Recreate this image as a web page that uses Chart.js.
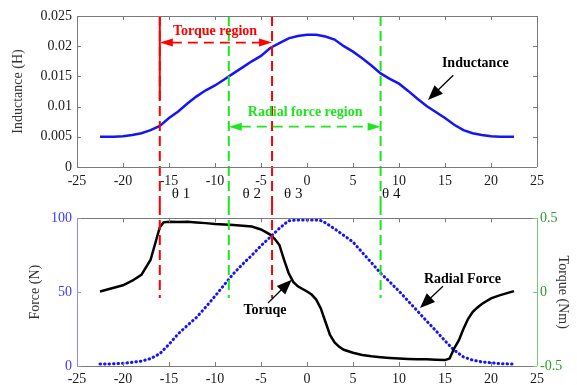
<!DOCTYPE html>
<html>
<head>
<meta charset="UTF-8">
<script src="https://cdn.jsdelivr.net/npm/chart.js@4.4.0/dist/chart.umd.min.js"></script>
<style>
  body { margin: 0; background: #fff; }
  #wrap { position: relative; width: 577px; height: 385px; }
  canvas { position: absolute; left: 0; }
  #top { top: 0; }
  #bot { top: 205px; }
</style>
</head>
<body>
<div id="wrap">
  <canvas id="top" width="577" height="205"></canvas>
  <canvas id="bot" width="577" height="180"></canvas>
</div>
<script>
// rotor angle (deg) and inductance (H)
const angleL = [-22.5, -21, -20, -19, -18, -17, -16, -15, -14, -13, -12, -11, -10, -9, -8, -7, -6, -5, -4, -3, -2, -1,
  0, 1, 2, 3, 4, 5, 6, 7, 8, 9, 10, 11, 12, 13, 14, 15, 16, 17, 18, 19, 20, 21, 22.5];
const inductance = [0.0050, 0.0050, 0.0051, 0.0053, 0.0056, 0.0061, 0.0068, 0.0081, 0.0092, 0.0105, 0.0117, 0.0127,
  0.0135, 0.0145, 0.0155, 0.0165, 0.0175, 0.0184, 0.0197, 0.0205, 0.0213, 0.0217, 0.0219, 0.0219, 0.0216, 0.0211,
  0.0200, 0.0191, 0.0180, 0.0168, 0.0155, 0.0146, 0.0138, 0.0126, 0.0113, 0.0101, 0.0091, 0.0081, 0.0070, 0.0061,
  0.0056, 0.0053, 0.0051, 0.0050, 0.0050];

// torque (Nm)
const angleT = [-22.5, -21, -20, -19, -18, -17, -16.5, -16, -15.6, -15, -14, -13, -12, -11, -10, -9, -8, -7, -6, -5,
  -4, -3.5, -3, -2.5, -2, -1.5, -1, 0, 0.5, 1, 1.5, 2, 2.5, 3, 3.5, 4, 5, 6, 7, 8, 9, 10, 11, 12, 13, 14, 15, 15.5,
  16, 16.5, 17, 17.5, 18, 18.5, 19, 20, 21, 22.5];
const torque = [0.005, 0.03, 0.047, 0.078, 0.118, 0.22, 0.33, 0.44, 0.473, 0.478, 0.476, 0.478, 0.473, 0.468, 0.462,
  0.459, 0.456, 0.45, 0.445, 0.425, 0.39, 0.36, 0.32, 0.22, 0.13, 0.07, 0.04, 0.005, -0.016, -0.05, -0.11, -0.2,
  -0.29, -0.34, -0.37, -0.39, -0.41, -0.426, -0.434, -0.44, -0.445, -0.449, -0.452, -0.454, -0.455, -0.458, -0.46,
  -0.449, -0.38, -0.327, -0.25, -0.182, -0.135, -0.105, -0.08, -0.042, -0.02, 0.007];

// radial force (N)
const angleF = [-22.5, -21, -20, -19, -18, -17, -16, -15, -14, -13, -12, -11, -10, -9, -8, -7, -6, -5, -4, -3, -2, -1,
  0, 1, 1.5, 2, 3, 4, 5, 6, 7, 8, 9, 10, 11, 12, 13, 14, 15, 16, 17, 18, 19, 20, 21, 22.5];
const radialForce = [1.3, 1.5, 1.8, 2.5, 3.3, 5, 8.4, 14.7, 21.8, 27.5, 33, 40, 47.3, 55, 62.5, 69, 75, 81.5, 87.3,
  93.3, 98.4, 99, 99, 99, 98.5, 97, 92.9, 88.5, 84, 77, 70, 62.9, 57, 50.7, 44, 37.3, 30.5, 24, 17, 10.7, 6.2, 4,
  2.8, 2.2, 1.6, 1.3];

// region boundaries
const thetaAngles = [-16, -8.5, -3.8, 8];
const thetaNames = ['θ 1', 'θ 2', 'θ 3', 'θ 4'];

const RED = '#ff0000', GREEN = '#1ee61e', BLUE = '#1515f5';
const serif = "'Liberation Serif', 'Times New Roman', serif";
Chart.defaults.font.family = serif;
Chart.defaults.font.size = 14;
Chart.defaults.color = '#1a1a1a';

const pts = (xs, ys) => xs.map((x, i) => ({x: x, y: ys[i]}));
const lineColor = i => (i % 2 === 0 ? RED : GREEN);

function head(ctx, x1, y1, x2, y2, len, w) {
  const a = Math.atan2(y2 - y1, x2 - x1);
  const bx = x2 - len * Math.cos(a), by = y2 - len * Math.sin(a);
  ctx.beginPath();
  ctx.moveTo(x2, y2);
  ctx.lineTo(bx + w * Math.sin(a), by - w * Math.cos(a));
  ctx.lineTo(bx - w * Math.sin(a), by + w * Math.cos(a));
  ctx.closePath();
  ctx.fill();
}

function arrow(ctx, x1, y1, x2, y2) {
  const a = Math.atan2(y2 - y1, x2 - x1);
  ctx.save();
  ctx.strokeStyle = '#000';
  ctx.fillStyle = '#000';
  ctx.lineWidth = 1.3;
  ctx.beginPath();
  ctx.moveTo(x1, y1);
  ctx.lineTo(x2 - 12 * Math.cos(a), y2 - 12 * Math.sin(a));
  ctx.stroke();
  head(ctx, x1, y1, x2, y2, 15, 6);
  ctx.restore();
}

// dashed double arrow between two boundaries
function span(ctx, xa, xb, y, color) {
  ctx.save();
  ctx.strokeStyle = color;
  ctx.fillStyle = color;
  ctx.lineWidth = 1.8;
  ctx.setLineDash([10, 6]);
  ctx.beginPath();
  ctx.moveTo(xa + 12, y);
  ctx.lineTo(xb - 12, y);
  ctx.stroke();
  head(ctx, xb, y, xa, y, 13, 4);
  head(ctx, xa, y, xb, y, 13, 4);
  ctx.restore();
}

function label(ctx, text, x, y, color, bold) {
  ctx.save();
  ctx.font = (bold ? 'bold ' : '') + '14px ' + serif;
  ctx.fillStyle = color;
  ctx.textAlign = 'center';
  ctx.textBaseline = 'middle';
  ctx.fillText(text, x, y);
  ctx.restore();
}

function vline(ctx, x, y1, y2, color, dash) {
  ctx.save();
  ctx.strokeStyle = color;
  ctx.lineWidth = 2;
  ctx.setLineDash(dash);
  ctx.beginPath();
  ctx.moveTo(x, y1);
  ctx.lineTo(x, y2);
  ctx.stroke();
  ctx.restore();
}

// box with inward ticks, MATLAB style
const frame = {
  id: 'frame',
  afterDraw(chart, args, o) {
    const {ctx, chartArea: a} = chart;
    const x = chart.scales.x, yl = chart.scales[o.left], yr = chart.scales[o.right];
    const r = v => Math.round(v) + 0.5;
    ctx.save();
    ctx.lineWidth = 1;
    ctx.strokeStyle = '#7a7a7a';
    ctx.beginPath();
    ctx.moveTo(a.left, r(a.top)); ctx.lineTo(a.right, r(a.top));
    ctx.moveTo(a.left, r(a.bottom)); ctx.lineTo(a.right, r(a.bottom));
    x.ticks.forEach(t => {
      const px = r(x.getPixelForValue(t.value));
      ctx.moveTo(px, a.bottom); ctx.lineTo(px, a.bottom - 4);
      ctx.moveTo(px, a.top); ctx.lineTo(px, a.top + 4);
    });
    ctx.stroke();
    ctx.strokeStyle = o.leftColor;
    ctx.beginPath();
    ctx.moveTo(r(a.left), a.top); ctx.lineTo(r(a.left), a.bottom);
    yl.ticks.forEach(t => {
      const py = r(yl.getPixelForValue(t.value));
      ctx.moveTo(a.left, py); ctx.lineTo(a.left + 4, py);
    });
    ctx.stroke();
    ctx.strokeStyle = o.rightColor;
    ctx.beginPath();
    ctx.moveTo(r(a.right), a.top); ctx.lineTo(r(a.right), a.bottom);
    yr.ticks.forEach(t => {
      const py = r(yr.getPixelForValue(t.value));
      ctx.moveTo(a.right, py); ctx.lineTo(a.right - 4, py);
    });
    ctx.stroke();
    ctx.restore();
  }
};

const topMarks = {
  id: 'topMarks',
  afterDatasetsDraw(chart) {
    const {ctx, chartArea: a, scales: {x, y}} = chart;
    thetaAngles.forEach((t, i) => {
      vline(ctx, x.getPixelForValue(t), a.top, chart.height, lineColor(i), [10, 5]);
    });
    vline(ctx, x.getPixelForValue(thetaAngles[0]), a.top, y.getPixelForValue(0.0111), RED, []);
    const at = [-14.7, -7.0, -2.5, 8.15];
    ctx.save();
    ctx.font = '15px ' + serif;
    ctx.fillStyle = '#111';
    ctx.textBaseline = 'middle';
    thetaNames.forEach((n, i) => ctx.fillText(n, x.getPixelForValue(at[i]), chart.height - 11));
    ctx.restore();

    label(ctx, 'Torque region', x.getPixelForValue(-10), y.getPixelForValue(0.0225), RED, true);
    span(ctx, x.getPixelForValue(thetaAngles[0]), x.getPixelForValue(thetaAngles[2]), y.getPixelForValue(0.0206), RED);
    label(ctx, 'Radial force region', x.getPixelForValue(-0.2), y.getPixelForValue(0.0091), GREEN, true);
    span(ctx, x.getPixelForValue(thetaAngles[1]), x.getPixelForValue(thetaAngles[3]), y.getPixelForValue(0.00667), GREEN);
    label(ctx, 'Inductance', x.getPixelForValue(18.3), y.getPixelForValue(0.0172), '#000', true);
    arrow(ctx, x.getPixelForValue(15.9), y.getPixelForValue(0.0152), x.getPixelForValue(13.15), y.getPixelForValue(0.0111));
  }
};

const botMarks = {
  id: 'botMarks',
  afterDatasetsDraw(chart) {
    const {ctx, scales: {x, yF}} = chart;
    thetaAngles.forEach((t, i) => {
      vline(ctx, x.getPixelForValue(t), 0, yF.getPixelForValue(46), lineColor(i), [10, 5]);
    });
    label(ctx, 'Toruqe', x.getPixelForValue(-4.57), yF.getPixelForValue(38), '#000', true);
    arrow(ctx, x.getPixelForValue(-4.24), yF.getPixelForValue(42.7), x.getPixelForValue(-1.66), yF.getPixelForValue(58.5));
    label(ctx, 'Radial Force', x.getPixelForValue(16.9), yF.getPixelForValue(58.7), '#000', true);
    arrow(ctx, x.getPixelForValue(14.78), yF.getPixelForValue(54), x.getPixelForValue(12.28), yF.getPixelForValue(39.3));
  }
};

const noGrid = {display: false, drawTicks: false};

const xAxis = (h, pad) => ({
  type: 'linear', min: -25, max: 25,
  ticks: {stepSize: 5, padding: pad, maxRotation: 0},
  grid: noGrid, border: {display: false},
  afterFit: s => { s.height = h; }
});

new Chart(document.getElementById('top'), {
  type: 'line',
  data: {
    datasets: [{
      data: pts(angleL, inductance),
      borderColor: BLUE, borderWidth: 2.5, pointRadius: 0, tension: 0
    }]
  },
  options: {
    responsive: false, animation: false, devicePixelRatio: 1,
    layout: {padding: {left: 0, right: 40, top: 16, bottom: 0}},
    plugins: {legend: {display: false}, tooltip: {enabled: false},
      frame: {left: 'y', right: 'y', leftColor: '#7a7a7a', rightColor: '#7a7a7a'}},
    scales: {
      x: xAxis(38, 6),
      y: {
        min: 0, max: 0.025,
        ticks: {stepSize: 0.005, padding: 5, callback: v => String(+v.toFixed(3))},
        grid: noGrid, border: {display: false},
        title: {display: true, text: 'Inductance (H)', color: '#333', padding: {top: 10, bottom: 0}},
        afterFit: s => { s.width = 77; }
      }
    }
  },
  plugins: [frame, topMarks]
});

new Chart(document.getElementById('bot'), {
  type: 'line',
  data: {
    datasets: [{
      data: pts(angleT, torque), yAxisID: 'yT',
      borderColor: '#000', borderWidth: 2.5, pointRadius: 0, tension: 0
    }, {
      data: pts(angleF, radialForce), yAxisID: 'yF',
      borderColor: BLUE, borderWidth: 3, pointRadius: 0, tension: 0,
      borderDash: [0.5, 4], borderCapStyle: 'round'
    }]
  },
  options: {
    responsive: false, animation: false, devicePixelRatio: 1,
    layout: {padding: {left: 0, right: 0, top: 11, bottom: 0}},
    plugins: {legend: {display: false}, tooltip: {enabled: false},
      frame: {left: 'yF', right: 'yT', leftColor: '#8c8cff', rightColor: '#7cc47c'}},
    scales: {
      x: xAxis(19, 5),
      yF: {
        position: 'left', min: 0, max: 100,
        ticks: {stepSize: 50, padding: 5, color: '#3b3bff'},
        grid: noGrid, border: {display: false},
        title: {display: true, text: 'Force (N)', color: '#333', padding: {top: 27, bottom: 0}},
        afterFit: s => { s.width = 77; }
      },
      yT: {
        position: 'right', min: -0.5, max: 0.5,
        ticks: {stepSize: 0.5, padding: 3, color: '#2a9d2a', callback: v => String(+v.toFixed(1))},
        grid: noGrid, border: {display: false},
        title: {display: true, text: 'Torque (Nm)', color: '#333', padding: {top: 6, bottom: 0}},
        afterFit: s => { s.width = 40; }
      }
    }
  },
  plugins: [frame, botMarks]
});
</script>
</body>
</html>
